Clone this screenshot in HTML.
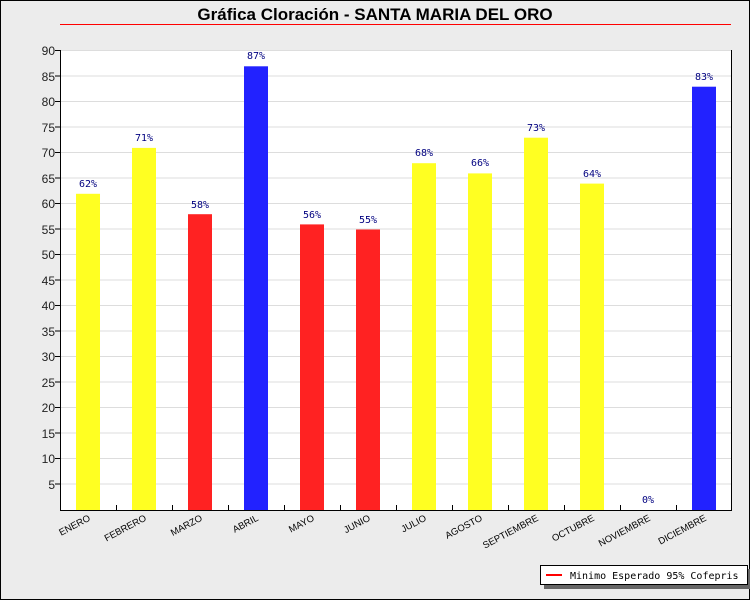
<!DOCTYPE html>
<html><head><meta charset="utf-8"><style>
body{margin:0;background:#fff}
svg{display:block}
</style></head><body>
<svg width="750" height="600" xmlns="http://www.w3.org/2000/svg" font-family="Liberation Sans, sans-serif">
<rect x="0.5" y="0.5" width="749" height="599" fill="#ececec" stroke="#000"/>
<text x="375" y="20" text-anchor="middle" font-size="17" font-weight="bold">Gráfica Cloración - SANTA MARIA DEL ORO</text>
<line x1="60" y1="24.5" x2="731" y2="24.5" stroke="#f00" stroke-width="1"/>
<rect x="60" y="50" width="671" height="460" fill="#fff"/>
<g stroke="#ddd" stroke-width="1">
<line x1="60" x2="731" y1="50.5" y2="50.5"/><line x1="60" x2="731" y1="76" y2="76"/><line x1="60" x2="731" y1="101.5" y2="101.5"/><line x1="60" x2="731" y1="127" y2="127"/><line x1="60" x2="731" y1="152.5" y2="152.5"/><line x1="60" x2="731" y1="178" y2="178"/><line x1="60" x2="731" y1="203.5" y2="203.5"/><line x1="60" x2="731" y1="229" y2="229"/><line x1="60" x2="731" y1="254.5" y2="254.5"/><line x1="60" x2="731" y1="280" y2="280"/><line x1="60" x2="731" y1="305.5" y2="305.5"/><line x1="60" x2="731" y1="331" y2="331"/><line x1="60" x2="731" y1="356.5" y2="356.5"/><line x1="60" x2="731" y1="382" y2="382"/><line x1="60" x2="731" y1="407.5" y2="407.5"/><line x1="60" x2="731" y1="433" y2="433"/><line x1="60" x2="731" y1="458.5" y2="458.5"/><line x1="60" x2="731" y1="484" y2="484"/>
</g>
<g font-size="12" text-anchor="end" fill="#222">
<text x="55" y="55">90</text><text x="55" y="81">85</text><text x="55" y="106">80</text><text x="55" y="132">75</text><text x="55" y="157">70</text><text x="55" y="183">65</text><text x="55" y="208">60</text><text x="55" y="234">55</text><text x="55" y="259">50</text><text x="55" y="285">45</text><text x="55" y="310">40</text><text x="55" y="336">35</text><text x="55" y="361">30</text><text x="55" y="387">25</text><text x="55" y="412">20</text><text x="55" y="438">15</text><text x="55" y="463">10</text><text x="55" y="489">5</text>
</g>
<g stroke="#000"><line x1="55" x2="60" y1="50.5" y2="50.5"/><line x1="55" x2="60" y1="76" y2="76"/><line x1="55" x2="60" y1="101.5" y2="101.5"/><line x1="55" x2="60" y1="127" y2="127"/><line x1="55" x2="60" y1="152.5" y2="152.5"/><line x1="55" x2="60" y1="178" y2="178"/><line x1="55" x2="60" y1="203.5" y2="203.5"/><line x1="55" x2="60" y1="229" y2="229"/><line x1="55" x2="60" y1="254.5" y2="254.5"/><line x1="55" x2="60" y1="280" y2="280"/><line x1="55" x2="60" y1="305.5" y2="305.5"/><line x1="55" x2="60" y1="331" y2="331"/><line x1="55" x2="60" y1="356.5" y2="356.5"/><line x1="55" x2="60" y1="382" y2="382"/><line x1="55" x2="60" y1="407.5" y2="407.5"/><line x1="55" x2="60" y1="433" y2="433"/><line x1="55" x2="60" y1="458.5" y2="458.5"/><line x1="55" x2="60" y1="484" y2="484"/></g>
<g>
<rect x="76" y="193.8" width="24" height="316.2" fill="#ffff22"/>
<rect x="132" y="147.9" width="24" height="362.1" fill="#ffff22"/>
<rect x="188" y="214.2" width="24" height="295.8" fill="#ff2222"/>
<rect x="244" y="66.3" width="24" height="443.7" fill="#2222ff"/>
<rect x="300" y="224.4" width="24" height="285.6" fill="#ff2222"/>
<rect x="356" y="229.5" width="24" height="280.5" fill="#ff2222"/>
<rect x="412" y="163.2" width="24" height="346.8" fill="#ffff22"/>
<rect x="468" y="173.4" width="24" height="336.6" fill="#ffff22"/>
<rect x="524" y="137.7" width="24" height="372.3" fill="#ffff22"/>
<rect x="580" y="183.6" width="24" height="326.4" fill="#ffff22"/>
<rect x="692" y="86.7" width="24" height="423.3" fill="#2222ff"/>
</g>
<g font-family="DejaVu Sans Mono, Liberation Mono, monospace" font-size="10" fill="#000080" text-anchor="middle">
<text x="88" y="187">62%</text><text x="144" y="141">71%</text><text x="200" y="208">58%</text><text x="256" y="59">87%</text><text x="312" y="218">56%</text><text x="368" y="223">55%</text><text x="424" y="156">68%</text><text x="480" y="166">66%</text><text x="536" y="131">73%</text><text x="592" y="177">64%</text><text x="648" y="503">0%</text><text x="704" y="80">83%</text>
</g>
<g stroke="#000" stroke-width="1">
<line x1="60.5" y1="50" x2="60.5" y2="510"/>
<line x1="60" y1="510.5" x2="731.5" y2="510.5"/>
<line x1="731.5" y1="50" x2="731.5" y2="511"/>
<line x1="116.5" y1="505" x2="116.5" y2="510"/><line x1="172.5" y1="505" x2="172.5" y2="510"/><line x1="228.5" y1="505" x2="228.5" y2="510"/><line x1="284.5" y1="505" x2="284.5" y2="510"/><line x1="340.5" y1="505" x2="340.5" y2="510"/><line x1="396.5" y1="505" x2="396.5" y2="510"/><line x1="452.5" y1="505" x2="452.5" y2="510"/><line x1="508.5" y1="505" x2="508.5" y2="510"/><line x1="564.5" y1="505" x2="564.5" y2="510"/><line x1="620.5" y1="505" x2="620.5" y2="510"/><line x1="676.5" y1="505" x2="676.5" y2="510"/>
</g>
<g font-size="9.5" fill="#000" text-anchor="end">
<text transform="translate(91,520) rotate(-28)">ENERO</text>
<text transform="translate(147,520) rotate(-28)">FEBRERO</text>
<text transform="translate(203,520) rotate(-28)">MARZO</text>
<text transform="translate(259,520) rotate(-28)">ABRIL</text>
<text transform="translate(315,520) rotate(-28)">MAYO</text>
<text transform="translate(371,520) rotate(-28)">JUNIO</text>
<text transform="translate(427,520) rotate(-28)">JULIO</text>
<text transform="translate(483,520) rotate(-28)">AGOSTO</text>
<text transform="translate(539,520) rotate(-28)">SEPTIEMBRE</text>
<text transform="translate(595,520) rotate(-28)">OCTUBRE</text>
<text transform="translate(651,520) rotate(-28)">NOVIEMBRE</text>
<text transform="translate(707,520) rotate(-28)">DICIEMBRE</text>
</g>
<rect x="544" y="569" width="206" height="20" fill="#666"/>
<rect x="540.5" y="565.5" width="207" height="19" fill="#fff" stroke="#000"/>
<line x1="546" y1="575" x2="562" y2="575" stroke="#f00" stroke-width="2"/>
<text x="570" y="579" font-family="DejaVu Sans Mono, Liberation Mono, monospace" font-size="10">Minimo Esperado 95% Cofepris</text>
</svg>
</body></html>
